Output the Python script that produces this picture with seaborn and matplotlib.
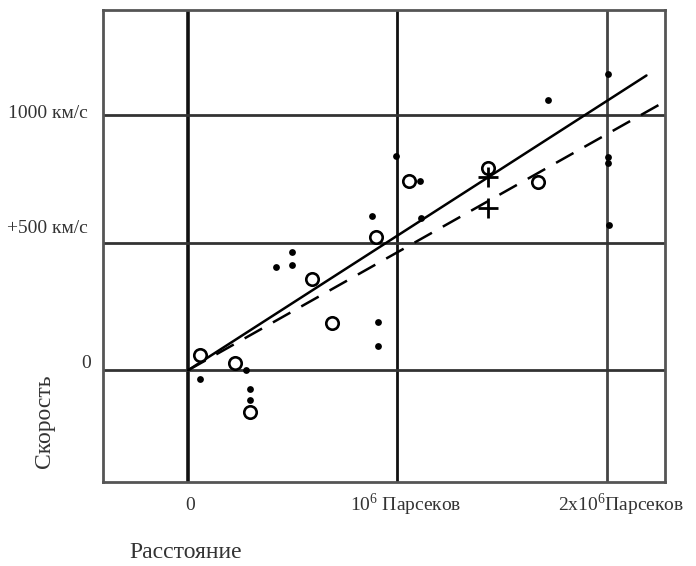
import matplotlib
matplotlib.use("Agg")
import matplotlib.pyplot as plt
import matplotlib.transforms as mtransforms
import seaborn as sns
import pandas as pd

# Distances in units of 10^6 parsecs, velocities in km/s
nebula_dist = [0.057, 0.277, 0.296, 0.296, 0.42, 0.495, 0.495, 0.877, 0.908, 0.908,
               0.995, 1.11, 1.115, 1.718, 2.006, 2.006, 2.006, 2.01]
nebula_vel = [-33, 0, -72, -118, 405, 464, 412, 604, 189, 94,
              839, 742, 599, 1061, 1160, 835, 811, 568]

group_dist = [0.057, 0.224, 0.296, 0.59, 0.686, 0.90, 1.055, 1.432, 1.67]
group_vel = [59, 29, -163, 359, 185, 523, 742, 792, 738]

cross_dist = [1.432, 1.432]
cross_vel = [757, 635]

solid_x = [0.0, 2.19]
solid_v = [0, 1156]
dashed_x = [0.0, 2.263]
dashed_v = [0, 1047]

xgrid = [0, 1, 2]
ygrid = [0, 500, 1000]
ytick_labels = ["0", "+500 км/с", "1000 км/с"]
xtick_labels = ["0", "10$^6$ Парсеков", "2x10$^6$Парсеков"]

sns.set_style("white")
plt.rcParams['font.family'] = ['Liberation Serif', 'DejaVu Serif']
plt.rcParams['mathtext.fontset'] = 'custom'
plt.rcParams['mathtext.rm'] = 'Liberation Serif'

fig = plt.figure(figsize=(6.96, 5.66), dpi=100)
ax = fig.add_axes([0.148, 0.148, 0.807, 0.834])

# grid lines
for i, gx in enumerate(xgrid):
    ax.axvline(gx, color="#111111" if i < 2 else "#444444", lw=2.6 if i == 0 else 2.0, zorder=1)
for gy in ygrid:
    ax.axhline(gy, color="#333333", lw=2.0, zorder=1)

df_lines = pd.DataFrame({"x": solid_x, "v": solid_v})
sns.lineplot(data=df_lines, x="x", y="v", ax=ax, color="black", lw=1.8, zorder=3)
df_dash = pd.DataFrame({"x": dashed_x, "v": dashed_v})
sns.lineplot(data=df_dash, x="x", y="v", ax=ax, color="black", lw=1.8, zorder=3,
             linestyle=(0, (8, 5)))

df_neb = pd.DataFrame({"x": nebula_dist, "v": nebula_vel})
sns.scatterplot(data=df_neb, x="x", y="v", ax=ax, color="black", s=24,
                edgecolor="black", linewidth=0, zorder=4)
df_grp = pd.DataFrame({"x": group_dist, "v": group_vel})
sns.scatterplot(data=df_grp, x="x", y="v", ax=ax, facecolor="white", s=80,
                edgecolor="black", linewidth=1.9, zorder=4)
df_cr = pd.DataFrame({"x": cross_dist, "v": cross_vel})
sns.scatterplot(data=df_cr, x="x", y="v", ax=ax, marker="+", color="black", s=220,
                linewidth=2.0, zorder=5)

ax.set_xlim(-0.406, 2.277)
ax.set_ylim(-439, 1412)
ax.set_xticks([])
ax.set_yticks([])
ax.set_xlabel("")
ax.set_ylabel("")
for sp in ax.spines.values():
    sp.set_color("#555555")
    sp.set_linewidth(2.0)

# tick labels as text
ytrans = mtransforms.blended_transform_factory(fig.transFigure, ax.transData)
ylab_pos = [(91 / 696, 27), (88 / 696, 557), (88 / 696, 1007)]
for (fx, yy), lab in zip(ylab_pos, ytick_labels):
    ax.text(fx, yy, lab, transform=ytrans, ha="right", va="center", fontsize=14,
            color="#333333")

xtrans = mtransforms.blended_transform_factory(fig.transFigure, fig.transFigure)
xlab_pos = [190 / 696, 406 / 696, 621 / 696]
for fx, lab in zip(xlab_pos, xtick_labels):
    ax.text(fx, 1 - 505 / 566, lab, transform=xtrans, ha="center", va="center",
            fontsize=14, color="#333333")

fig.text(186 / 696, 1 - 552 / 566, "Расстояние", ha="center", va="center",
         fontsize=17, color="#333333")
fig.text(45 / 696, 1 - 421 / 566, "Скорость", ha="center", va="center",
         rotation=90, fontsize=17, color="#333333")

fig.savefig("out.png", dpi=100, facecolor="white")
